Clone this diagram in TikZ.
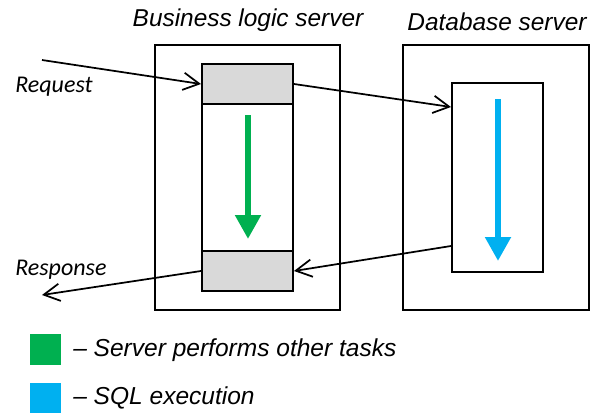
\documentclass[tikz,border=0pt]{standalone}
\usepackage{fontspec}
\setmainfont{Liberation Sans}
\newfontfamily\calib{Carlito}
\usetikzlibrary{arrows.meta,fit,calc}
\definecolor{taskgreen}{HTML}{00B050}
\definecolor{sqlblue}{HTML}{00B0F0}
\definecolor{cellgray}{HTML}{D9D9D9}
\begin{document}
\begin{tikzpicture}[x=0.75pt,y=-0.75pt,
  box/.style={draw=black, line width=1.5pt, inner sep=0pt},
  cell/.style={draw=black, line width=1.5pt, inner sep=0pt, fill=cellgray},
  conn/.style={line width=1.3pt, -{Straight Barb[length=12pt,width=13pt,line width=1.3pt]}},
  bigarrow/.style={line width=4.6pt, -{Triangle[length=18pt,width=18.5pt]}},
  title/.style={font=\fontsize{18.3}{20}\selectfont\itshape, inner sep=0pt},
  side/.style={font=\calib\fontsize{18}{20}\selectfont\itshape, inner sep=0pt, anchor=west},
  legtext/.style={font=\fontsize{18.4}{20}\selectfont\itshape, inner sep=0pt, anchor=west}
]
\useasboundingbox (0,0) rectangle (593,412);
% servers
\node[box, fit={(155,45)(340,310)}] (bls) {};
\node[box, fit={(403,45)(589,310)}] (dbs) {};
\node[title] (blst) at (248,20) {Business logic server};
\node[title] (dbst) at (497,22) {Database server};
% business column
\node[box, fit={(202,64)(293,291)}] (col) {};
\node[cell, fit={(202,64)(293,104)}] (top) {};
\node[cell, fit={(202,251)(293,291)}] (bot) {};
% database inner
\node[box, fit={(452,83)(543,272)}] (dbin) {};
% task arrows
\coordinate (gs) at (248,115);
\coordinate (ge) at (248,239);
\draw[bigarrow, draw=taskgreen, fill=taskgreen] (gs) -- (ge);
\coordinate (bs) at (498,99);
\coordinate (be) at (498,261);
\draw[bigarrow, draw=sqlblue, fill=sqlblue] (bs) -- (be);
% connectors
\coordinate (reqs) at (42,60);
\coordinate (resp) at (42,295);
\draw[conn] (reqs) -- (top.west);
\draw[conn] (top.east) -- ($(dbin.north west)+(0,25)$);
\draw[conn] ($(dbin.south west)+(0,-27)$) -- (bot.east);
\draw[conn] (bot.west) -- (resp);
\node[side] (reql) at (15,87) {Request};
\node[side] (resl) at (15,270) {Response};
% legend
\node[fill=taskgreen, inner sep=0pt, fit={(30,334)(61,365)}] (lg) {};
\node[fill=sqlblue, inner sep=0pt, fit={(30,383)(61,414)}] (lb) {};
\node[legtext] (lgt) at (73,350) {– Server performs other tasks};
\node[legtext] (lbt) at (73,398) {– SQL execution};
\end{tikzpicture}
\end{document}
